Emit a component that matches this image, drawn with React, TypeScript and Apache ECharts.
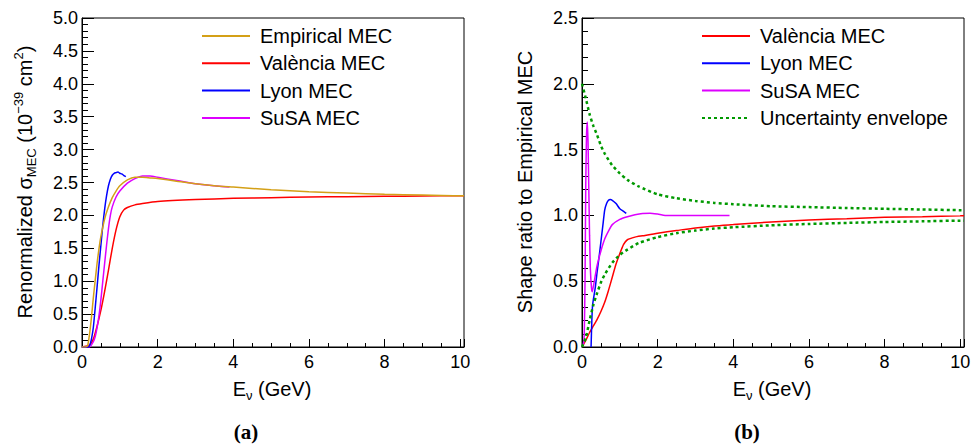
import React, { useEffect, useRef } from 'react';
import * as echarts from 'echarts';

// ---------- Panel (a): renormalized cross sections ----------
const empE = [0, 0.1, 0.15, 0.2, 0.25, 0.3, 0.35, 0.4, 0.45, 0.5, 0.6, 0.7, 0.8, 0.9, 1.0, 1.2, 1.4, 1.6, 1.8, 2.0, 2.5, 3, 3.5, 4, 5, 6, 7, 8, 9, 10, 10.1];
const empV = [0, 0, 0.02, 0.2, 0.45, 0.75, 1.02, 1.28, 1.5, 1.68, 1.95, 2.13, 2.27, 2.37, 2.45, 2.54, 2.58, 2.58, 2.57, 2.56, 2.52, 2.48, 2.45, 2.43, 2.39, 2.36, 2.34, 2.32, 2.31, 2.30, 2.30];

const valE = [0, 0.1, 0.2, 0.3, 0.4, 0.5, 0.6, 0.7, 0.8, 0.9, 1.0, 1.1, 1.2, 1.4, 1.6, 2, 3, 4, 5, 6, 7, 8, 9, 10, 10.1];
const valV = [0, 0.01, 0.03, 0.12, 0.32, 0.56, 0.85, 1.17, 1.5, 1.78, 1.98, 2.08, 2.12, 2.16, 2.18, 2.21, 2.24, 2.26, 2.27, 2.28, 2.285, 2.29, 2.295, 2.30, 2.30];

const lyonE = [0, 0.15, 0.2, 0.25, 0.3, 0.35, 0.4, 0.45, 0.5, 0.55, 0.6, 0.65, 0.7, 0.75, 0.8, 0.85, 0.9, 0.95, 1.0, 1.05, 1.1, 1.16];
const lyonV = [0, 0, 0.02, 0.12, 0.3, 0.6, 0.92, 1.25, 1.55, 1.85, 2.1, 2.3, 2.45, 2.55, 2.61, 2.64, 2.65, 2.66, 2.64, 2.63, 2.61, 2.59];

const susaE = [0, 0.2, 0.3, 0.35, 0.4, 0.45, 0.5, 0.55, 0.6, 0.65, 0.7, 0.75, 0.8, 0.9, 1.0, 1.2, 1.4, 1.6, 1.8, 2.0, 2.5, 3, 3.5, 3.9];
const susaV = [0, 0, 0.08, 0.16, 0.3, 0.48, 0.72, 1.0, 1.28, 1.55, 1.8, 2.0, 2.13, 2.28, 2.37, 2.49, 2.56, 2.6, 2.6, 2.58, 2.53, 2.48, 2.45, 2.43];

// ---------- Panel (b): shape ratios ----------
const envE = [0, 0.1, 0.2, 0.3, 0.4, 0.5, 0.6, 0.8, 1.0, 1.2, 1.5, 2, 2.5, 3, 3.5, 4, 5, 6, 7, 8, 9, 10, 10.1];
const envUp = [2.0, 1.89, 1.77, 1.68, 1.61, 1.53, 1.47, 1.38, 1.32, 1.27, 1.22, 1.16, 1.13, 1.11, 1.095, 1.085, 1.07, 1.063, 1.056, 1.05, 1.045, 1.04, 1.04];
const envLo = [0, 0.07, 0.2, 0.32, 0.41, 0.49, 0.55, 0.64, 0.70, 0.74, 0.79, 0.835, 0.865, 0.885, 0.9, 0.91, 0.925, 0.935, 0.943, 0.95, 0.955, 0.96, 0.96];

const rValE = [0, 0.1, 0.2, 0.3, 0.4, 0.5, 0.6, 0.7, 0.8, 0.9, 1.0, 1.1, 1.2, 1.4, 1.6, 2, 2.5, 3, 3.5, 4, 5, 6, 7, 8, 9, 10, 10.1];
const rValV = [0, 0.05, 0.11, 0.16, 0.21, 0.27, 0.34, 0.43, 0.53, 0.63, 0.71, 0.78, 0.815, 0.835, 0.845, 0.865, 0.885, 0.905, 0.92, 0.93, 0.95, 0.965, 0.975, 0.985, 0.99, 0.997, 0.998];

const rLyonE = [0.24, 0.26, 0.28, 0.3, 0.35, 0.4, 0.45, 0.5, 0.55, 0.6, 0.65, 0.7, 0.75, 0.8, 0.9, 1.0, 1.1, 1.17];
const rLyonV = [0, 0.2, 0.32, 0.36, 0.45, 0.57, 0.68, 0.8, 0.92, 1.04, 1.09, 1.115, 1.12, 1.115, 1.09, 1.05, 1.03, 1.015];

const rSusaE = [0, 0.04, 0.06, 0.08, 0.1, 0.12, 0.14, 0.16, 0.18, 0.2, 0.22, 0.25, 0.27, 0.3, 0.4, 0.5, 0.6, 0.7, 0.8, 1.0, 1.2, 1.4, 1.6, 1.8, 2.0, 2.2, 2.5, 3, 3.5, 3.9];
const rSusaV = [0, 0.03, 0.1, 0.5, 1.25, 1.62, 1.71, 1.55, 1.2, 0.85, 0.6, 0.45, 0.42, 0.46, 0.62, 0.73, 0.82, 0.88, 0.93, 0.97, 0.99, 1.005, 1.015, 1.017, 1.01, 1.0, 1.0, 1.0, 1.0, 1.0];

const xTicks = [0, 2, 4, 6, 8, 10];
const leftLegend = ['Empirical MEC', 'València MEC', 'Lyon MEC', 'SuSA MEC'];
const rightLegend = ['València MEC', 'Lyon MEC', 'SuSA MEC', 'Uncertainty envelope'];

const zip = (xs: number[], ys: number[]) => xs.map((x, i) => [x, ys[i]]);

const FONT = 'Liberation Sans';
const C_EMP = '#d4a017';
const C_VAL = '#ff0000';
const C_LYON = '#0000ff';
const C_SUSA = '#dd00ff';
const C_ENV = '#009900';

export default function App() {
  const ref = useRef<HTMLDivElement>(null);
  useEffect(() => {
    const chart = echarts.init(ref.current!, null, { renderer: 'svg' });

    const mainX = (gi: number) => ({
      type: 'value', gridIndex: gi, min: 0, max: 10.1, interval: 2, position: 'bottom',
      axisLine: { show: true, lineStyle: { color: '#000', width: 1 } },
      axisTick: { show: true, inside: true, length: 8, lineStyle: { color: '#000', width: 1 } },
      minorTick: { show: false },
      splitLine: { show: false },
      axisLabel: {
        color: '#000', fontFamily: FONT, fontSize: 18, margin: 6,
        formatter: (v: number) => (xTicks.indexOf(v) >= 0 ? String(v) : ''),
      },
    });
    const minorX = (gi: number) => ({
      type: 'value', gridIndex: gi, min: 0, max: 10.1, interval: 0.5, position: 'bottom',
      axisLine: { show: false },
      axisTick: { show: true, inside: true, length: 4, lineStyle: { color: '#000', width: 1 } },
      splitLine: { show: false },
      axisLabel: { show: false },
    });
    const mainY = (gi: number, max: number) => ({
      type: 'value', gridIndex: gi, min: 0, max, interval: 0.5, position: 'left',
      axisLine: { show: true, lineStyle: { color: '#000', width: 1 } },
      axisTick: { show: true, inside: true, length: 12, lineStyle: { color: '#000', width: 1 } },
      splitLine: { show: false },
      axisLabel: {
        color: '#000', fontFamily: FONT, fontSize: 18, margin: 4,
        formatter: (v: number) => v.toFixed(1),
      },
    });
    const minorY = (gi: number, max: number) => ({
      type: 'value', gridIndex: gi, min: 0, max, interval: 0.1, position: 'left',
      axisLine: { show: false },
      axisTick: { show: true, inside: true, length: 6, lineStyle: { color: '#000', width: 1 } },
      splitLine: { show: false },
      axisLabel: { show: false },
    });

    const line = (name: string, xi: number, yi: number, data: number[][], color: string, z: number, dotted = false) => ({
      type: 'line', name, xAxisIndex: xi, yAxisIndex: yi, data,
      showSymbol: false, symbol: 'none', smooth: 0.2, z,
      silent: true, emphasis: { disabled: true },
      lineStyle: dotted ? { color, width: 2.5, type: [3, 3] } : { color, width: 1.5 },
      itemStyle: { color },
    });

    const legendCommon = {
      orient: 'vertical', top: 26, itemWidth: 48, itemHeight: 14, itemGap: 7.3, padding: 0,
      selectedMode: false,
      itemStyle: { color: 'transparent', borderColor: 'transparent', borderWidth: 0, opacity: 0 },
      textStyle: { fontFamily: FONT, fontSize: 20, color: '#000', padding: [0, 0, 0, 5] },
    };

    const richTitle = {
      b: { fontFamily: FONT, fontSize: 20, fill: '#000', color: '#000', lineHeight: 26, verticalAlign: 'middle' },
      s: { fontFamily: FONT, fontSize: 13, fill: '#000', color: '#000', lineHeight: 13, verticalAlign: 'bottom' },
      u: { fontFamily: FONT, fontSize: 13, fill: '#000', color: '#000', lineHeight: 13, verticalAlign: 'top' },
    };

    const option: any = {
      animation: false,
      backgroundColor: '#fff',
      grid: [
        { left: 82, top: 18, right: 516, bottom: 97, show: true, borderColor: '#000', borderWidth: 1, backgroundColor: 'transparent' },
        { left: 582, top: 18, right: 16, bottom: 97, show: true, borderColor: '#000', borderWidth: 1, backgroundColor: 'transparent' },
      ],
      xAxis: [mainX(0), mainX(1), minorX(0), minorX(1)],
      yAxis: [mainY(0, 5), mainY(1, 2.5), minorY(0, 5), minorY(1, 2.5)],
      legend: [
        { ...legendCommon, left: 201, data: leftLegend },
        { ...legendCommon, left: 701, data: rightLegend },
      ],
      series: [
        line('València MEC', 0, 0, zip(valE, valV), C_VAL, 2),
        line('Lyon MEC', 0, 0, zip(lyonE, lyonV), C_LYON, 3),
        line('SuSA MEC', 0, 0, zip(susaE, susaV), C_SUSA, 2),
        line('Empirical MEC', 0, 0, zip(empE, empV), C_EMP, 4),
        line('València MEC', 1, 1, zip(rValE, rValV), C_VAL, 2),
        line('Lyon MEC', 1, 1, zip(rLyonE, rLyonV), C_LYON, 2),
        line('SuSA MEC', 1, 1, zip(rSusaE, rSusaV), C_SUSA, 2),
        line('Uncertainty envelope', 1, 1, zip(envE, envUp), C_ENV, 3, true),
        line('Uncertainty envelope', 1, 1, zip(envE, envLo), C_ENV, 3, true),
      ],
      graphic: [
        {
          type: 'text', x: 25, y: 182, rotation: Math.PI / 2, silent: true,
          style: {
            text: '{b|Renormalized σ}{s|MEC}{b| (10}{u|−39}{b| cm}{u|2}{b|)}',
            rich: richTitle, align: 'center', verticalAlign: 'middle', textAlign: 'center', textVerticalAlign: 'middle',
          },
        },
        {
          type: 'text', x: 525, y: 182, rotation: Math.PI / 2, silent: true,
          style: {
            text: '{b|Shape ratio to Empirical MEC}',
            rich: richTitle, align: 'center', verticalAlign: 'middle', textAlign: 'center', textVerticalAlign: 'middle',
          },
        },
        {
          type: 'text', x: 272, y: 389, silent: true,
          style: {
            text: '{b|E}{s|ν}{b| (GeV)}',
            rich: richTitle, align: 'center', verticalAlign: 'middle', textAlign: 'center', textVerticalAlign: 'middle',
          },
        },
        {
          type: 'text', x: 772, y: 389, silent: true,
          style: {
            text: '{b|E}{s|ν}{b| (GeV)}',
            rich: richTitle, align: 'center', verticalAlign: 'middle', textAlign: 'center', textVerticalAlign: 'middle',
          },
        },
        {
          type: 'text', x: 246, y: 432, silent: true,
          style: { text: '(a)', font: 'bold 21px "Liberation Serif"', fill: '#000', align: 'center', verticalAlign: 'middle', textAlign: 'center', textVerticalAlign: 'middle' },
        },
        {
          type: 'text', x: 747, y: 432, silent: true,
          style: { text: '(b)', font: 'bold 21px "Liberation Serif"', fill: '#000', align: 'center', verticalAlign: 'middle', textAlign: 'center', textVerticalAlign: 'middle' },
        },
      ],
    };
    chart.setOption(option);
    return () => chart.dispose();
  }, []);
  return <div ref={ref} style={{ position: 'fixed', left: 0, top: 0, width: 980, height: 444, background: '#fff' }} />;
}
